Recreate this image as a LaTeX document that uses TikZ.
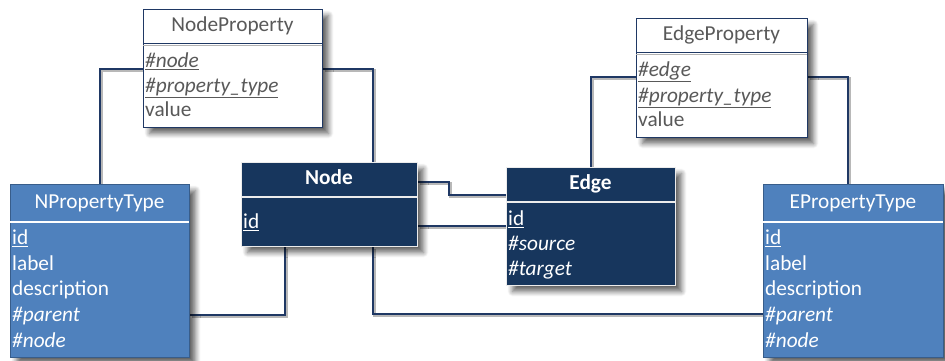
\documentclass[tikz,border=0pt]{standalone}
\usepackage{fontspec}
\setmainfont{Carlito}
\usetikzlibrary{shadows.blur,calc}
\definecolor{navy}{HTML}{17365D}
\definecolor{lblue}{HTML}{4F81BD}
\definecolor{bblue}{HTML}{385D8A}
\definecolor{txtgray}{HTML}{595959}
\definecolor{lnavy}{HTML}{1F3864}
\pgfdeclarelayer{bg}
\pgfsetlayers{bg,main}
\begin{document}
\begin{tikzpicture}[x=1pt,y=-1pt,
  font=\fontsize{21.3}{25}\selectfont,
  box/.style={line width=1pt, anchor=north west, inner sep=0pt,
    blur shadow={shadow xshift=6pt, shadow yshift=-6pt, shadow blur steps=8, shadow blur radius=5pt, shadow opacity=60}},
  wbox/.style={box, draw=lnavy, fill=white},
  bbox/.style={box, draw=bblue, fill=lblue},
  dbox/.style={box, draw=white!85!gray, fill=navy},
  rowt/.style={anchor=west, inner sep=0pt, text height=15pt, text depth=4pt},
  headt/.style={anchor=center, inner sep=0pt, text height=15pt, text depth=4pt},
  conn/.style={line width=2.8pt, draw=lnavy,
    preaction={draw=black!28, line width=2.8pt, transform canvas={shift={(1.6pt,-1.6pt)}}}},
]
\useasboundingbox (0,0) rectangle (945,360);

% NodeProperty
\node[wbox, minimum width=179pt, minimum height=118pt] (np) at (143,9) {};
\draw[lnavy, line width=1pt] (143,43) -- (322,43);
\draw[gray!60, line width=1pt] (143,45) -- (322,45);
\node[headt, text=txtgray] (nph) at (232.5,26) {NodeProperty};
\node[rowt, text=txtgray] (np1) at (145,62) {\underline{\textit{\#node}}};
\node[rowt, text=txtgray] (np2) at (145,87) {\underline{\textit{\#property\_type}}};
\node[rowt, text=txtgray] (np3) at (145,111) {value};

% EdgeProperty
\node[wbox, minimum width=171pt, minimum height=119pt] (ep) at (636,18) {};
\draw[lnavy, line width=1pt] (636,52) -- (807,52);
\draw[gray!60, line width=1pt] (636,54) -- (807,54);
\node[headt, text=txtgray] (eph) at (721.5,35) {EdgeProperty};
\node[rowt, text=txtgray] (ep1) at (638,71) {\underline{\textit{\#edge}}};
\node[rowt, text=txtgray] (ep2) at (638,97) {\underline{\textit{\#property\_type}}};
\node[rowt, text=txtgray] (ep3) at (638,121) {value};

% NPropertyType
\node[bbox, minimum width=179pt, minimum height=173pt] (npt) at (10,184) {};
\draw[white, line width=1.5pt] (10,222) -- (189,222);
\node[headt, text=white] (npth) at (99.5,203) {NPropertyType};
\node[rowt, text=white] (npt1) at (12,239) {\underline{id}};
\node[rowt, text=white] (npt2) at (12,265) {label};
\node[rowt, text=white] (npt3) at (12,290) {description};
\node[rowt, text=white] (npt4) at (12,316) {\textit{\#parent}};
\node[rowt, text=white] (npt5) at (12,342) {\textit{\#node}};

% EPropertyType
\node[bbox, minimum width=180pt, minimum height=173pt] (ept) at (763,184) {};
\draw[white, line width=1.5pt] (763,222) -- (943,222);
\node[headt, text=white] (epth) at (853,203) {EPropertyType};
\node[rowt, text=white] (ept1) at (765,239) {\underline{id}};
\node[rowt, text=white] (ept2) at (765,265) {label};
\node[rowt, text=white] (ept3) at (765,290) {description};
\node[rowt, text=white] (ept4) at (765,316) {\textit{\#parent}};
\node[rowt, text=white] (ept5) at (765,342) {\textit{\#node}};

% Node
\node[dbox, minimum width=176pt, minimum height=84pt] (nd) at (241,162) {};
\draw[white!85!gray, line width=1.5pt] (241,197) -- (417,197);
\node[headt, text=white, font=\fontsize{21.3}{25}\selectfont\bfseries] (ndh) at (329,179) {Node};
\node[rowt, text=white] (nd1) at (243,223) {\underline{id}};

% Edge
\node[dbox, minimum width=169pt, minimum height=118pt] (ed) at (506,167) {};
\draw[white!85!gray, line width=1.5pt] (506,202) -- (675,202);
\node[headt, text=white, font=\fontsize{21.3}{25}\selectfont\bfseries] (edh) at (590.5,184) {Edge};
\node[rowt, text=white] (ed1) at (508,220) {\underline{id}};
\node[rowt, text=white] (ed2) at (508,245) {\textit{\#source}};
\node[rowt, text=white] (ed3) at (508,270) {\textit{\#target}};

\begin{pgfonlayer}{bg}
\draw[conn] ($(np.north west)+(0,60)$) -| ($(npt.north west)+(90,0)$);
\draw[conn] ($(np.north east)+(0,60)$) -| ($(nd.north west)+(132,0)$);
\draw[conn] ($(ep.north west)+(0,59)$) -| ($(ed.north west)+(85,0)$);
\draw[conn] ($(ep.north east)+(0,59)$) -| ($(ept.north west)+(85,0)$);
\draw[conn] ($(nd.north east)+(0,20)$) -- ++(31,0) |- ($(ed.north west)+(0,28)$);
\draw[conn] ($(nd.north east)+(0,64)$) -- ($(ed.north west)+(0,59)$);
\draw[conn] ($(nd.south west)+(44,0)$) |- ($(npt.north east)+(0,131)$);
\draw[conn] ($(nd.south west)+(132,0)$) |- ($(ept.north west)+(0,130)$);
\end{pgfonlayer}
\end{tikzpicture}
\end{document}
